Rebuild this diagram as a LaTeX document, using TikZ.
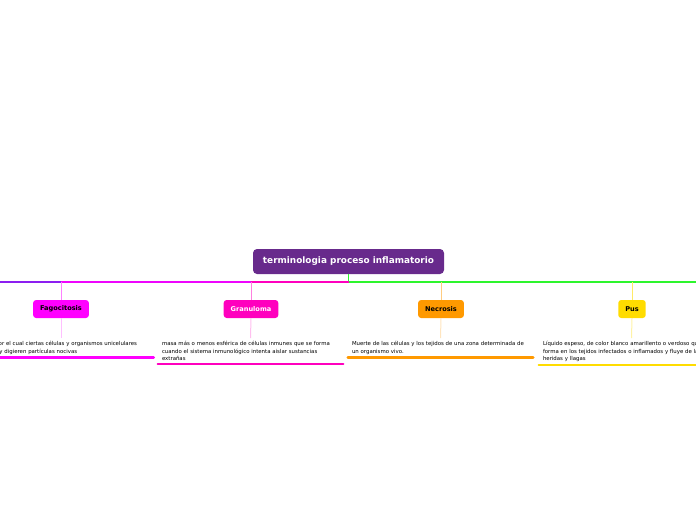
\documentclass[tikz,border=0pt]{standalone}
\usepackage{fontspec}
\setmainfont{DejaVu Sans}
\usepackage{tikz}
\usetikzlibrary{positioning, calc}
\definecolor{temapurple}{RGB}{104, 42, 140}
\definecolor{ramomorado}{RGB}{140, 30, 240}
\definecolor{ramoverde}{RGB}{45, 245, 45}
\definecolor{fagocolor}{RGB}{255, 0, 255}
\definecolor{grancolor}{RGB}{255, 0, 190}
\definecolor{necrocolor}{RGB}{255, 153, 0}
\definecolor{puscolor}{RGB}{255, 220, 0}

\begin{document}
\begin{tikzpicture}[x=1pt, y=-1pt,
  tema/.style={fill=temapurple, text=white, rounded corners=4pt, minimum width=191pt, minimum height=25pt, inner sep=0pt, font=\bfseries\fontsize{8.9}{10}\selectfont},
  ramo/.style={rounded corners=3pt, minimum height=18pt, inner xsep=7pt, inner ysep=0pt, font=\bfseries\fontsize{6.6}{7.5}\selectfont},
  nota/.style={anchor=north, text width=177pt, align=left, inner xsep=4pt, inner ysep=3pt, font=\fontsize{5.4}{7.5}\selectfont},
  eje/.style={line width=1.6pt},
  bajada/.style={line width=1pt},
  subrayado/.style={line width=2.6pt, line cap=round}]

  \useasboundingbox (0,0) rectangle (696,520);
  \clip (0,0) rectangle (696,520);

  % --- Tema central ---
  \node[tema] (tema) at (348.5,261.5) {terminologia proceso inflamatorio};
  \coordinate (hub) at (348.5,282);
  \coordinate (bordeizq) at (0,282);
  \coordinate (bordeder) at (696,282);

  % --- Ramos ---
  \node[ramo, fill=fagocolor, text=black] (fago) at (61,309) {Fagocitosis};
  \node[ramo, fill=grancolor, text=white] (gran) at (251,309) {Granuloma};
  \node[ramo, fill=necrocolor, text=black] (necro) at (441,309) {Necrosis};
  \node[ramo, fill=puscolor, text=black] (pus) at (632,309) {Pus};

  % --- Notas de cada ramo ---
  \node[nota] (fagonota) at (61,338) {Proceso por el cual ciertas células y organismos unicelulares\\engloban y digieren partículas nocivas};
  \node[nota] (grannota) at (250.5,338) {masa más o menos esférica de células inmunes que se forma\\cuando el sistema inmunológico intenta aislar sustancias\\extrañas};
  \node[nota] (necronota) at (440.5,338) {Muerte de las células y los tejidos de una zona determinada de\\un organismo vivo.};
  \node[nota] (pusnota) at (631.5,338) {Líquido espeso, de color blanco amarillento o verdoso que se\\forma en los tejidos infectados o inflamados y fluye de las\\heridas y llagas};

  % Ejes horizontales
  \draw[eje, ramoverde] (tema.south) |- (bordeder);
  \draw[eje, ramomorado] (bordeizq) -- (fago.north |- hub);
  \draw[eje, fagocolor!85!ramomorado] (fago.north |- hub) -- (gran.north |- hub);
  \draw[eje, grancolor] (gran.north |- hub) -- (hub);

  % Bajadas hacia los ramos y las notas
  \draw[bajada, fagocolor!50] (fago.north |- hub) -- (fago.north);
  \draw[bajada, grancolor!50] (gran.north |- hub) -- (gran.north);
  \draw[bajada, necrocolor!50] (necro.north |- hub) -- (necro.north);
  \draw[bajada, puscolor!60] (pus.north |- hub) -- (pus.north);
  \draw[bajada, fagocolor!25] (fago.south) -- (fagonota.north);
  \draw[bajada, grancolor!25] (gran.south) -- (grannota.north);
  \draw[bajada, necrocolor!25] (necro.south) -- (necronota.north);
  \draw[bajada, puscolor!35] (pus.south) -- (pusnota.north);

  % Subrayados
  \draw[subrayado, fagocolor] (fagonota.south west) -- (fagonota.south east);
  \draw[subrayado, grancolor] (grannota.south west) -- (grannota.south east);
  \draw[subrayado, necrocolor] (necronota.south west) -- (necronota.south east);
  \draw[subrayado, puscolor] (pusnota.south west) -- (pusnota.south east);

\end{tikzpicture}
\end{document}
